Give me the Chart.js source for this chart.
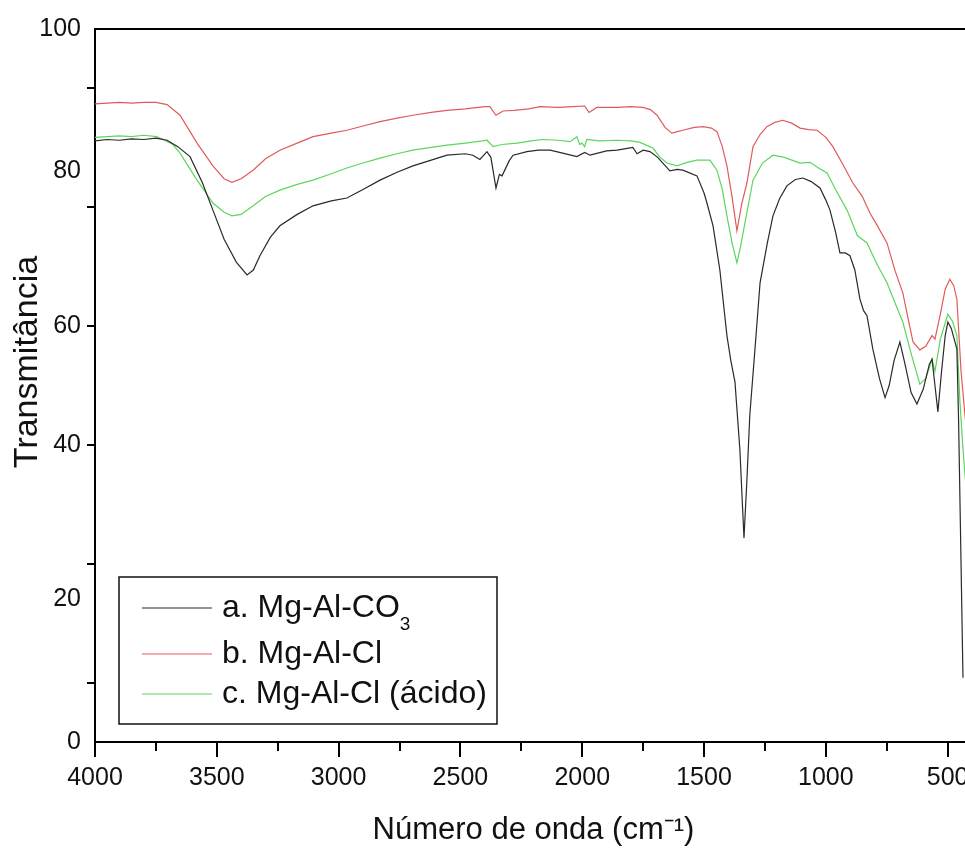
<!DOCTYPE html>
<html>
<head>
<meta charset="utf-8">
<script src="https://cdn.jsdelivr.net/npm/chart.js@4"></script>
<style>
  html, body { margin: 0; padding: 0; background: #fff; }
  #wrap { width: 965px; height: 852px; overflow: hidden; }
</style>
</head>
<body>
<div id="wrap"><canvas id="ftir" width="985" height="852"></canvas></div>
<script>
// Series names (subscript part kept apart so the legend can draw it small)
const seriesNames = ['a. Mg-Al-CO', 'b. Mg-Al-Cl', 'c. Mg-Al-Cl (ácido)'];
const seriesSubs = ['3', '', ''];
const seriesColors = ['#2a2a2a', '#e05a5a', '#5cd65c'];

// a. Mg-Al-CO3
const waveA = [4000, 3950, 3900, 3850, 3800, 3750, 3704, 3660, 3610, 3560, 3516, 3470, 3420, 3376, 3350, 3323,
  3280, 3241, 3170, 3105, 3030, 2966, 2900, 2830, 2760, 2695, 2620, 2555, 2480, 2449, 2420, 2391, 2375, 2354,
  2340, 2329, 2300, 2284, 2227, 2180, 2132, 2080, 2022, 1990, 1968, 1900, 1857, 1792, 1775, 1750, 1722, 1690,
  1669, 1640, 1610, 1587, 1529, 1500, 1488, 1463, 1435, 1406, 1390, 1373, 1353, 1336, 1325, 1312, 1290, 1270,
  1240, 1217, 1190, 1160, 1125, 1094, 1060, 1024, 1000, 983, 960, 942, 920, 901, 881, 860, 845, 831, 807, 780,
  757, 740, 720, 696, 675, 650, 626, 600, 575, 564, 552, 540, 525, 510, 499, 485, 462, 455, 445, 437];
const transA = [84.3, 84.5, 84.4, 84.6, 84.5, 84.7, 84.4, 83.5, 82.1, 78.5, 74.6, 70.5, 67.3, 65.5, 66.2, 68.2,
  70.8, 72.4, 74.0, 75.2, 75.9, 76.3, 77.5, 78.8, 79.9, 80.8, 81.6, 82.3, 82.5, 82.3, 81.7, 82.8, 82.0, 77.7,
  79.6, 79.4, 81.5, 82.3, 82.8, 83.0, 83.0, 82.6, 82.1, 82.7, 82.3, 82.9, 83.0, 83.4, 82.5, 83.0, 82.8, 82.0,
  81.2, 80.1, 80.3, 80.2, 79.4, 77.0, 75.6, 72.4, 66.2, 57.0, 53.5, 50.5, 41.1, 28.6, 36.0, 45.9, 55.5, 64.4,
  70.0, 73.8, 76.2, 78.0, 78.9, 79.1, 78.6, 77.7, 76.0, 74.6, 71.5, 68.6, 68.6, 68.2, 66.2, 62.1, 60.5, 59.8, 55.1, 51.0,
  48.3, 50.0, 53.5, 56.1, 53.0, 49.0, 47.4, 49.5, 53.0, 53.7, 50.0, 46.3, 52.0, 57.0, 58.9, 58.0, 55.1, 45.0, 25.0, 9.0];

// b. Mg-Al-Cl
const waveB = [4000, 3950, 3900, 3850, 3800, 3750, 3704, 3651, 3581, 3516, 3470, 3438, 3400, 3351, 3300, 3241,
  3170, 3105, 3030, 2966, 2900, 2830, 2760, 2695, 2620, 2555, 2480, 2400, 2379, 2354, 2325, 2280, 2220, 2173,
  2100, 2040, 1990, 1972, 1940, 1857, 1800, 1751, 1720, 1693, 1660, 1632, 1610, 1587, 1540, 1504, 1470, 1447,
  1425, 1406, 1385, 1365, 1345, 1324, 1299, 1270, 1242, 1210, 1176, 1140, 1106, 1070, 1036, 1000, 971, 930,
  889, 850, 819, 790, 749, 715, 684, 660, 642, 614, 590, 564, 552, 530, 510, 491, 475, 462, 445, 429, 420];
const transB = [89.5, 89.6, 89.7, 89.6, 89.7, 89.7, 89.4, 87.9, 84.0, 80.8, 79.0, 78.5, 79.0, 80.2, 81.8, 83.0,
  84.0, 84.9, 85.4, 85.8, 86.4, 87.0, 87.5, 87.9, 88.3, 88.6, 88.8, 89.1, 89.1, 87.9, 88.5, 88.6, 88.8, 89.1,
  89.0, 89.1, 89.2, 88.3, 89.0, 89.0, 89.1, 89.0, 88.7, 87.9, 86.2, 85.4, 85.6, 85.8, 86.2, 86.3, 86.1, 85.6,
  83.5, 80.8, 76.5, 71.7, 75.5, 78.4, 83.5, 85.2, 86.3, 86.9, 87.2, 86.8, 86.1, 85.9, 85.8, 84.8, 83.5, 81.0,
  78.4, 76.5, 74.2, 72.5, 70.0, 66.0, 63.0, 59.0, 56.1, 55.0, 55.5, 57.0, 56.5, 60.0, 63.5, 64.9, 64.0, 62.1, 52.0, 45.9, 43.0];

// c. Mg-Al-Cl (ácido)
const waveC = [4000, 3950, 3900, 3850, 3800, 3746, 3721, 3680, 3651, 3581, 3516, 3470, 3438, 3400, 3351, 3300,
  3241, 3170, 3105, 3030, 2966, 2900, 2830, 2760, 2695, 2620, 2555, 2480, 2410, 2391, 2366, 2330, 2268, 2210,
  2161, 2100, 2050, 2022, 2010, 2001, 1990, 1981, 1930, 1857, 1800, 1763, 1710, 1680, 1652, 1611, 1570, 1529,
  1476, 1447, 1425, 1406, 1385, 1365, 1350, 1332, 1299, 1260, 1217, 1170, 1106, 1065, 1030, 995, 960, 913,
  870, 831, 790, 749, 715, 684, 650, 614, 590, 564, 552, 530, 499, 480, 462, 450, 437, 420];
const transC = [84.8, 84.9, 85.0, 84.9, 85.1, 84.9, 84.5, 83.8, 82.6, 78.8, 75.6, 74.3, 73.8, 74.0, 75.2, 76.5,
  77.4, 78.2, 78.8, 79.7, 80.5, 81.2, 81.9, 82.5, 83.0, 83.4, 83.7, 84.0, 84.3, 84.4, 83.5, 83.8, 84.0, 84.3,
  84.5, 84.4, 84.2, 84.9, 83.8, 84.0, 83.5, 84.5, 84.3, 84.4, 84.3, 84.1, 83.3, 82.0, 81.2, 80.8, 81.3, 81.6,
  81.6, 80.2, 77.5, 73.8, 70.0, 67.2, 69.5, 72.8, 78.8, 81.2, 82.3, 82.0, 81.2, 81.3, 80.5, 79.8, 77.5, 74.6,
  71.0, 70.0, 67.0, 64.4, 61.5, 58.9, 54.5, 50.2, 51.0, 53.7, 52.0, 56.5, 60.0, 59.0, 57.0, 48.0, 41.1, 33.8];

// Axis ticks
const xTickValues = [4000, 3750, 3500, 3250, 3000, 2750, 2500, 2250, 2000, 1750, 1500, 1250, 1000, 750, 500];
const yLabelValues = [0, 20, 41.7, 58.3, 80, 100];
const yTickLabels = ['0', '20', '40', '60', '80', '100'];
const yMarkValues = [8.33, 25, 41.67, 58.33, 75, 91.67];
const yTitle = 'Transmitância';

const waves = [waveA, waveB, waveC];
const trans = [transA, transB, transC];

const FONT = '"Liberation Sans", Arial, sans-serif';

// tick marks and the frame around the plot
const axisMarks = {
  id: 'axisMarks',
  afterDraw(chart) {
    const {ctx, chartArea: a, scales: {x, y}} = chart;
    ctx.save();
    ctx.strokeStyle = '#000';
    ctx.lineWidth = 2;
    ctx.beginPath();
    ctx.moveTo(a.left - 1, a.top);
    ctx.lineTo(a.right, a.top);
    ctx.lineTo(a.right, a.bottom);
    xTickValues.forEach(v => {
      const px = Math.round(x.getPixelForValue(v));
      const len = v % 500 === 0 ? 15 : 9;
      ctx.moveTo(px, a.bottom);
      ctx.lineTo(px, a.bottom + len);
    });
    yMarkValues.forEach(v => {
      const py = Math.round(y.getPixelForValue(v));
      ctx.moveTo(a.left, py);
      ctx.lineTo(a.left - 8, py);
    });
    ctx.stroke();

    // y title, sits a bit above the middle of the axis
    ctx.fillStyle = '#111';
    ctx.font = '34px ' + FONT;
    ctx.textAlign = 'center';
    ctx.textBaseline = 'middle';
    ctx.translate(28, 362);
    ctx.rotate(-Math.PI / 2);
    ctx.fillText(yTitle, 0, 0);
    ctx.restore();
  }
};

// boxed legend inside the plot, with subscript support
const boxLegend = {
  id: 'boxLegend',
  afterDraw(chart) {
    const ctx = chart.ctx;
    const rows = [608, 654, 694];
    ctx.save();
    ctx.fillStyle = '#fff';
    ctx.fillRect(119, 577, 378, 147);
    ctx.strokeStyle = '#111';
    ctx.lineWidth = 1.5;
    ctx.strokeRect(119, 577, 378, 147);
    chart.data.datasets.forEach((ds, i) => {
      const yy = rows[i];
      ctx.strokeStyle = ds.borderColor;
      ctx.lineWidth = 1.2;
      ctx.beginPath();
      ctx.moveTo(142, yy);
      ctx.lineTo(212, yy);
      ctx.stroke();
      ctx.fillStyle = '#111';
      ctx.textBaseline = 'middle';
      ctx.font = '32px ' + FONT;
      ctx.fillText(seriesNames[i], 222, yy);
      if (seriesSubs[i]) {
        const w = ctx.measureText(seriesNames[i]).width;
        ctx.font = '19px ' + FONT;
        ctx.fillText(seriesSubs[i], 222 + w, yy + 17);
      }
    });
    ctx.restore();
  }
};

const ctx = document.getElementById('ftir').getContext('2d');
const chart = new Chart(ctx, {
  type: 'line',
  data: {
    datasets: seriesNames.map((name, i) => ({
      label: name + seriesSubs[i],
      data: waves[i].map((w, j) => ({x: w, y: trans[i][j]})),
      borderColor: seriesColors[i],
      borderWidth: 1.2,
      pointRadius: 0,
      tension: 0,
      fill: false
    }))
  },
  options: {
    responsive: false,
    animation: false,
    layout: { padding: { top: 25, right: 13, left: 0, bottom: 0 } },
    plugins: {
      legend: { display: false },
      tooltip: { enabled: false }
    },
    scales: {
      x: {
        type: 'linear',
        reverse: true,
        min: 400,
        max: 4000,
        afterBuildTicks: s => { s.ticks = xTickValues.map(v => ({value: v})); },
        afterFit: s => { s.height = 110; },
        grid: { display: false, drawTicks: true, tickLength: 21 },
        border: { display: true, color: '#000', width: 2 },
        ticks: {
          autoSkip: false,
          maxRotation: 0,
          padding: 0,
          color: '#111',
          font: { family: FONT, size: 25 },
          callback: v => (v % 500 === 0 ? String(v) : '')
        },
        title: {
          display: true,
          text: 'Número de onda (cm⁻¹)',
          color: '#111',
          font: { family: FONT, size: 31 },
          padding: { top: 0, bottom: 3 }
        }
      },
      y: {
        min: 0,
        max: 100,
        afterBuildTicks: s => { s.ticks = yLabelValues.map(v => ({value: v})); },
        afterFit: s => { s.width = 95; },
        grid: { display: false, drawTicks: false },
        border: { display: true, color: '#000', width: 2 },
        ticks: {
          autoSkip: false,
          padding: 14,
          color: '#111',
          font: { family: FONT, size: 25 },
          callback: (v, i) => yTickLabels[i]
        },
        title: { display: false, text: yTitle }
      }
    }
  },
  plugins: [axisMarks, boxLegend]
});
</script>
</body>
</html>
